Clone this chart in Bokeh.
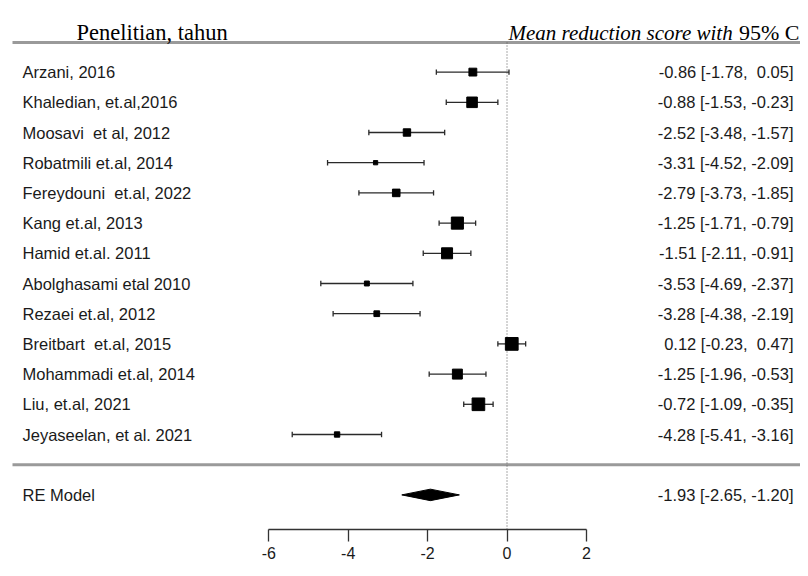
from bokeh.plotting import figure
from bokeh.models import Range1d, FixedTicker, ColumnDataSource, LinearAxis
from bokeh.core.properties import value
from bokeh.embed import file_html
from bokeh.resources import INLINE

# ---------------- data ----------------
studies = [
    "Arzani, 2016",
    "Khaledian, et.al,2016",
    "Moosavi  et al, 2012",
    "Robatmili et.al, 2014",
    "Fereydouni  et.al, 2022",
    "Kang et.al, 2013",
    "Hamid et.al. 2011",
    "Abolghasami etal 2010",
    "Rezaei et.al, 2012",
    "Breitbart  et.al, 2015",
    "Mohammadi et.al, 2014",
    "Liu, et.al, 2021",
    "Jeyaseelan, et al. 2021",
]
est = [-0.86, -0.88, -2.52, -3.31, -2.79, -1.25, -1.51, -3.53, -3.28, 0.12, -1.25, -0.72, -4.28]
ci_lo = [-1.78, -1.53, -3.48, -4.52, -3.73, -1.71, -2.11, -4.69, -4.38, -0.23, -1.96, -1.09, -5.41]
ci_hi = [0.05, -0.23, -1.57, -2.09, -1.85, -0.79, -0.91, -2.37, -2.19, 0.47, -0.53, -0.35, -3.16]
re_label = "RE Model"
re_est, re_lo, re_hi = -1.93, -2.65, -1.20
tau2 = 1.6
x_ticks = [-6, -4, -2, 0, 2]
header_left = "Penelitian, tahun"
header_right_italic = "Mean reduction score with"
header_right_plain = "95% C"

# ---------------- geometry helpers (image pixel -> data) ----------------
PXX = 39.7   # pixels per x unit
PXY = 30.2   # pixels per row
X0_PIX = 506.5
Y1_PIX = 434.0
W, H = 800, 568

def dx(px):
    return (px - X0_PIX) / PXX

def dy(py):
    return 1 + (Y1_PIX - py) / PXY

n = len(studies)
ys = list(range(n, 0, -1))
re_y = -1

# marker sizes from random-effects weights (metafor style scaling)
vi = [((h - l) / 3.92) ** 2 for l, h in zip(ci_lo, ci_hi)]
wi = [1.0 / (v + tau2) for v in vi]
wmin, wmax = min(wi), max(wi)
sizes = [8.5 * (0.5 + (w - wmin) / (wmax - wmin)) for w in wi]

def fmt(v):
    return f"{v:5.2f}".replace(" ", "\u00a0")

right_txt = [f"{fmt(e)} [{fmt(l)}, {fmt(h)}]" for e, l, h in zip(est, ci_lo, ci_hi)]
re_txt = f"{fmt(re_est)} [{fmt(re_lo)}, {fmt(re_hi)}]"

src = ColumnDataSource(dict(
    study=[s.replace("  ", "\u00a0 ") for s in studies],
    est=est, lo=ci_lo, hi=ci_hi, y=ys, size=sizes, rt=right_txt,
    cap_lo=[y - 0.09 for y in ys], cap_hi=[y + 0.09 for y in ys],
))

p = figure(
    width=W, height=H,
    x_range=Range1d(dx(0), dx(W)),
    y_range=Range1d(dy(H), dy(0)),
    x_axis_type=None, y_axis_type=None,
    output_backend="svg", toolbar_location=None,
    min_border_left=0, min_border_right=0, min_border_top=0, min_border_bottom=0,
)
p.outline_line_color = None
p.xgrid.visible = False
p.ygrid.visible = False
p.background_fill_color = "white"
p.border_fill_color = "white"

# horizontal rules
top_y = dy(42)
p.segment(x0=[dx(12)], x1=[dx(W)], y0=[top_y], y1=[top_y], line_color="#9a9a9a", line_width=3)
p.segment(x0=[dx(12)], x1=[dx(W)], y0=[0], y1=[0], line_color="#9a9a9a", line_width=3)

# reference line at zero
axis_y = dy(529)
p.segment(x0=[0], x1=[0], y0=[top_y], y1=[axis_y], line_color="#555555",
          line_width=1, line_dash="1 2")

# CIs
line_col = "#2a2a2a"
p.segment(x0="lo", x1="hi", y0="y", y1="y", source=src, line_color=line_col, line_width=1.3)
p.segment(x0="lo", x1="lo", y0="cap_lo", y1="cap_hi", source=src, line_color=line_col, line_width=1.3)
p.segment(x0="hi", x1="hi", y0="cap_lo", y1="cap_hi", source=src, line_color=line_col, line_width=1.3)
p.scatter(x="est", y="y", size="size", marker="square", source=src,
          fill_color="black", line_color="black")

# RE diamond
h = 0.19
p.patch(x=[re_lo, re_est, re_hi, re_est], y=[re_y, re_y + h, re_y, re_y - h],
        fill_color="black", line_color="black")

font = value("Liberation Sans")
fs = "16.5px"
txt_col = "#1a1a1a"
p.text(x=dx(22), y="y", text="study", source=src, text_font=font, text_font_size=fs,
       text_baseline="middle", text_align="left", text_color=txt_col)
p.text(x=dx(793), y="y", text="rt", source=src, text_font=font, text_font_size=fs,
       text_baseline="middle", text_align="right", text_color=txt_col)
p.text(x=[dx(22)], y=[re_y], text=[re_label], text_font=font, text_font_size=fs,
       text_baseline="middle", text_align="left", text_color=txt_col)
p.text(x=[dx(793)], y=[re_y], text=[re_txt], text_font=font, text_font_size=fs,
       text_baseline="middle", text_align="right", text_color=txt_col)

# headers
serif = value("Liberation Serif")
hy = dy(32)
p.text(x=[dx(76)], y=[hy], text=[header_left], text_font=serif, text_font_size="22.5px",
       text_baseline="alphabetic", text_align="left", text_color="black")
p.text(x=[dx(508)], y=[hy], text=[header_right_italic], text_font=serif, text_font_size="21px",
       text_font_style="italic", text_baseline="alphabetic", text_align="left", text_color="black")
p.text(x=[dx(799)], y=[hy], text=[header_right_plain], text_font=serif, text_font_size="22px",
       text_baseline="alphabetic", text_align="right", text_color="black")

# bottom axis (fixed inside the frame)
ax = LinearAxis(ticker=FixedTicker(ticks=x_ticks), bounds=(min(x_ticks), max(x_ticks)),
                fixed_location=axis_y)
ax.major_tick_in = 0
ax.major_tick_out = 12
ax.minor_tick_line_color = None
ax.axis_line_color = "#333333"
ax.axis_line_width = 1.3
ax.major_tick_line_color = "#333333"
ax.major_tick_line_width = 1.3
ax.major_label_text_font = "Liberation Sans"
ax.major_label_text_font_size = "16px"
ax.major_label_text_color = txt_col
ax.major_label_standoff = 5
ax.major_label_overrides = {t: str(t) for t in x_ticks}
p.add_layout(ax, "below")

open("out.html", "w").write(file_html(p, INLINE))
